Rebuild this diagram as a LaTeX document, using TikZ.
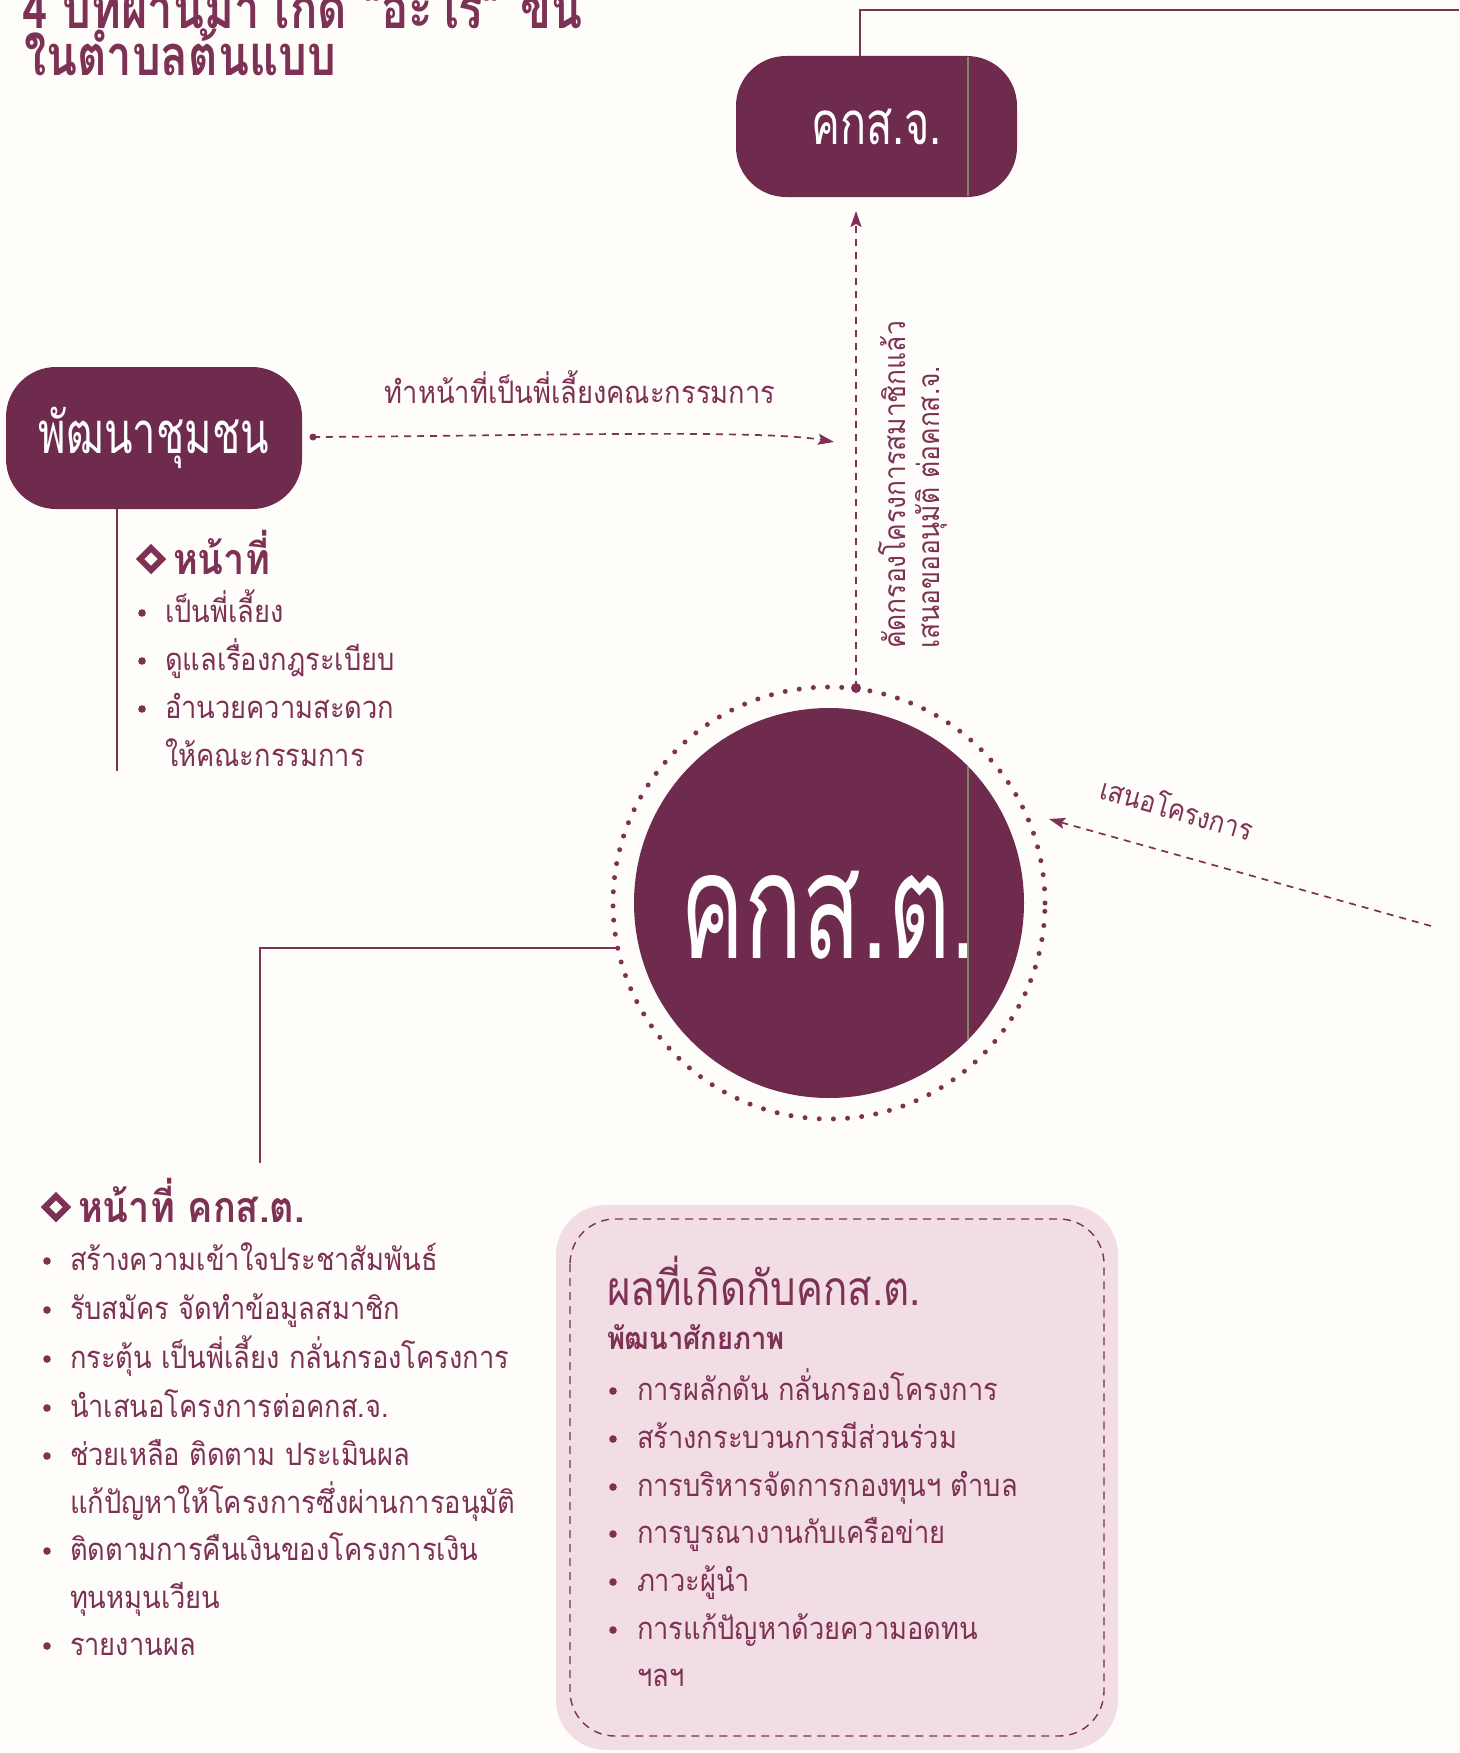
\documentclass[tikz,border=0pt]{standalone}
\usepackage{fontspec}
\newfontfamily\fbody[Script=Thai,FakeStretch=0.88]{Loma}
\newfontfamily\fres[Script=Thai,FakeStretch=0.84]{Loma}
\newfontfamily\ftitle[Script=Thai,FakeStretch=0.81]{Loma}
\newfontfamily\fpill[Script=Thai,FakeStretch=0.72]{Loma}
\newfontfamily\fbig[Script=Thai,FakeStretch=0.65]{Loma}
\usetikzlibrary{arrows.meta,calc}
\definecolor{plum}{RGB}{110,43,78}
\definecolor{txt}{RGB}{125,50,85}
\definecolor{pinkbg}{RGB}{243,221,228}
\definecolor{seam}{RGB}{128,138,92}
\definecolor{paper}{RGB}{254,253,250}
\begin{document}
\begin{tikzpicture}[x=1pt,y=-1pt,
  every node/.style={inner sep=0pt, outer sep=0pt},
  body/.style={anchor=base west, text=txt, font=\fbody\fontsize{31}{36}\selectfont},
  headb/.style={anchor=base west, text=txt, font=\fbody\bfseries\fontsize{43}{46}\selectfont},
  conn/.style={draw=txt, line width=2pt},
  dashconn/.style={draw=txt, line width=1.7pt, dash pattern=on 7pt off 6pt},
  tip/.style={-{Stealth[length=16pt,width=11pt,inset=3pt]}},
  pillbox/.style={fill=plum, rounded corners=50pt, text=white},
  diam/.style={draw=txt, line width=6pt, fill=paper, line join=miter},
  bul/.style={fill=txt},
]
\useasboundingbox (0,0) rectangle (1459,1753);
\fill[paper] (0,0) rectangle (1459,1753);

% title (first line cut by the page edge)
\node[anchor=base west, text=txt, font=\ftitle\bfseries\fontsize{56}{60}\selectfont] (t1) at (22,29) {4 ปีที่ผ่านมา เกิด “อะไร” ขึ้น};
\node[anchor=base west, text=txt, font=\ftitle\bfseries\fontsize{56}{60}\selectfont] (t2) at (24,76) {ในตำบลต้นแบบ};

% top box
\node[pillbox, minimum width=281pt, minimum height=141pt, font=\fpill\fontsize{60}{64}\selectfont] (kksj) at (876.5,126.5) {คกส.จ.};
\draw[seam, line width=1.2pt] (968,57) -- (968,196);
\coordinate (topR) at (1459,10);
\draw[conn] ([xshift=-17pt]kksj.north) |- (topR);

% community development box
\node[pillbox, minimum width=296pt, minimum height=142pt, font=\fpill\fontsize{58}{62}\selectfont] (pc) at (154,438) {พัฒนาชุมชน};

% central circle
\node[circle, fill=plum, minimum size=390pt, text=white, font=\fbig\fontsize{148}{150}\selectfont] (kkst) at (829,903) {\raisebox{-55pt}[0pt][0pt]{คกส.ต.}};
\begin{scope}
  \clip (kkst.center) circle (195pt);
  \draw[seam, line width=1.2pt] (968,700) -- (968,1100);
\end{scope}
\draw[txt, line width=5pt, line cap=round, dash pattern=on 0pt off 14.2pt] (kkst.center) circle (216pt);

% vertical dashed arrow to top box
\coordinate (vs) at ($(kkst.center)+(27,-215)$);
\draw[dashconn, tip, shorten >=14pt] (vs) -- (vs |- kksj.south);
\fill[txt] (vs) circle (5pt);
\node[rotate=90, align=left, text=txt, font=\fbody\fontsize{30}{34}\selectfont] (vt) at (913,485) {คัดกรองโครงการสมาชิกแล้ว\\เสนอขออนุมัติ ต่อคกส.จ.};

% horizontal dashed arrow
\coordinate (hs) at ($(pc.east)+(11,-1)$);
\coordinate (he) at (834,442);
\draw[dashconn, tip] (hs) .. controls (520,436) and (760,429) .. (he);
\fill[txt] (hs) circle (3.5pt);
\node[body, anchor=base] (lab1) at (580,403) {ทำหน้าที่เป็นพี่เลี้ยงคณะกรรมการ};

% left vertical line and duties of community development
\coordinate (pcend) at (117,771);
\draw[conn] (pc.south -| pcend) -- (pcend);
\draw[diam] (151,548) -- (162,559) -- (151,570) -- (140,559) -- cycle;
\node[headb] (pah) at (173,574) {หน้าที่};
\foreach \yb/\s/\b [count=\i] in {622/เป็นพี่เลี้ยง/1, 670/ดูแลเรื่องกฎระเบียบ/1, 718/อำนวยความสะดวก/1, 766/ให้คณะกรรมการ/0}{
  \node[body] (pa\i) at (165,\yb) {\s};
  \ifnum\b=1 \fill[bul] (142,\yb-9) circle (3.8pt); \fi
}

% right dashed arrow
\coordinate (rs) at (1431,926);
\coordinate (re) at (1049,819);
\draw[dashconn, tip] (rs) -- (re);
\node[anchor=base, rotate=-16, text=txt, font=\fbody\fontsize{29}{34}\selectfont] (lab2) at (1174,820) {เสนอโครงการ};

% line to duties of kkst
\coordinate (ringL) at ($(kkst.center)+(-213,45)$);
\coordinate (kdL) at (260,1163);
\draw[conn] (ringL) -| (kdL);
\draw[diam] (56,1196) -- (67,1207) -- (56,1218) -- (45,1207) -- cycle;
\node[headb] (kh) at (78,1222) {หน้าที่ คกส.ต.};
\foreach \yb/\s/\b [count=\i] in {
  1270/สร้างความเข้าใจประชาสัมพันธ์/1,
  1319/รับสมัคร จัดทำข้อมูลสมาชิก/1,
  1368/กระตุ้น เป็นพี่เลี้ยง กลั่นกรองโครงการ/1,
  1417/นำเสนอโครงการต่อคกส.จ./1,
  1465/ช่วยเหลือ ติดตาม ประเมินผล/1,
  1513/แก้ปัญหาให้โครงการซึ่งผ่านการอนุมัติ/0,
  1560/ติดตามการคืนเงินของโครงการเงิน/1,
  1608/ทุนหมุนเวียน/0,
  1655/รายงานผล/1}{
  \node[body] (kl\i) at (70,\yb) {\s};
  \ifnum\b=1 \fill[bul] (47,\yb-9) circle (3.8pt); \fi
}

% results box
\node[fill=pinkbg, rounded corners=50pt, minimum width=562pt, minimum height=545pt] (pbox) at (837,1477.5) {};
\draw[txt, line width=1.4pt, dash pattern=on 8pt off 6pt, rounded corners=45pt] ($(pbox.north west)+(14,14)$) rectangle ($(pbox.south east)+(-14,-14)$);
\node[anchor=base west, text=txt, font=\fres\fontsize{48}{52}\selectfont] (ph) at (607,1305) {ผลที่เกิดกับคกส.ต.};
\node[anchor=base west, text=txt, font=\fbody\bfseries\fontsize{31}{34}\selectfont] (ps) at (607,1349) {พัฒนาศักยภาพ};
\foreach \yb/\s/\b [count=\i] in {
  1400/การผลักดัน กลั่นกรองโครงการ/1,
  1448/สร้างกระบวนการมีส่วนร่วม/1,
  1496/การบริหารจัดการกองทุนฯ ตำบล/1,
  1543/การบูรณางานกับเครือข่าย/1,
  1591/ภาวะผู้นำ/1,
  1639/การแก้ปัญหาด้วยความอดทน/1,
  1686/ฯลฯ/0}{
  \node[body] (pl\i) at (637,\yb) {\s};
  \ifnum\b=1 \fill[bul] (613,\yb-9) circle (3.8pt); \fi
}
\end{tikzpicture}
\end{document}
